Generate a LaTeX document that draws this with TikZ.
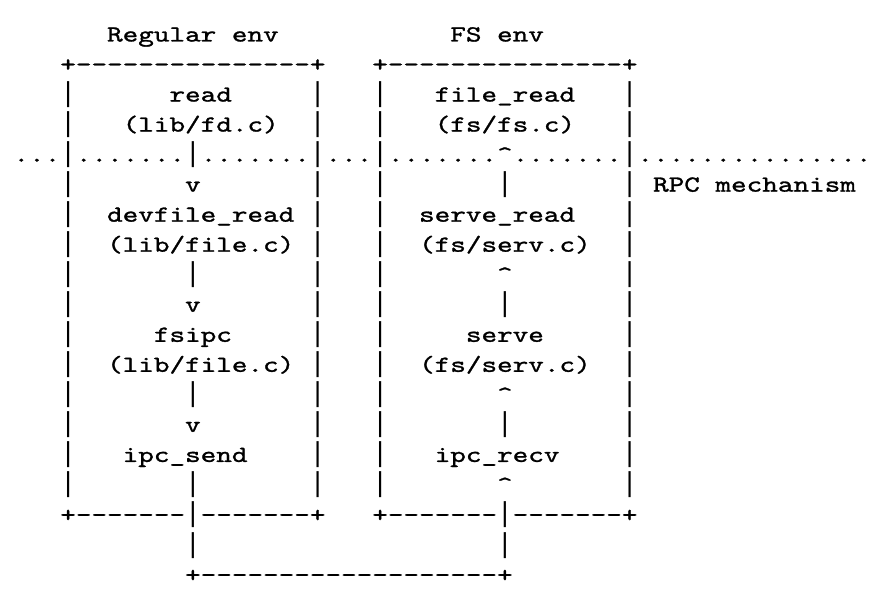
\documentclass[tikz,border=0pt]{standalone}
\usepackage{fontspec}
\newfontfamily\asciifont{lmmono10-regular.otf}[FakeStretch=1.2919,FakeBold=1.2]
\newfontfamily\barfont{DejaVu Sans Mono}
\tikzset{
  txt/.style={anchor=base west, inner sep=0pt, outer sep=0pt, text=black,
    font={\asciifont\fontsize{23pt}{30pt}\selectfont}}
}
% \A{row}{col}{text}
\newcommand\A[3]{\node[txt] (n#1-#2) at ({13.5+#2*15.6},{41.5+#1*30.03}) {#3};}
\newcommand\B{\makebox[15.6pt]{\barfont\fontsize{26pt}{30pt}\selectfont\textbar}}
\newcommand\C{\textasciicircum}
\begin{document}
\begin{tikzpicture}[x=1pt,y=-1pt]
\useasboundingbox[fill=white] (0,0) rectangle (880,612);
% row 0
\A{0}{6}{Regular env}
\A{0}{28}{FS env}
% row 1
\A{1}{3}{+---------------+}
\A{1}{23}{+---------------+}
% row 2
\A{2}{3}{\B}\A{2}{10}{read}\A{2}{19}{\B}
\A{2}{23}{\B}\A{2}{27}{file\_read}\A{2}{39}{\B}
% row 3
\A{3}{3}{\B}\A{3}{7}{(lib/fd.c)}\A{3}{19}{\B}
\A{3}{23}{\B}\A{3}{27}{(fs/fs.c)}\A{3}{39}{\B}
% row 4
\A{4}{0}{...\B.......\B.......\B...\B.......\C.......\B...............}
% row 5
\A{5}{3}{\B}\A{5}{11}{v}\A{5}{19}{\B}
\A{5}{23}{\B}\A{5}{31}{\B}\A{5}{39}{\B}\A{5}{41}{RPC mechanism}
% row 6
\A{6}{3}{\B}\A{6}{6}{devfile\_read}\A{6}{19}{\B}
\A{6}{23}{\B}\A{6}{26}{serve\_read}\A{6}{39}{\B}
% row 7
\A{7}{3}{\B}\A{7}{6}{(lib/file.c)}\A{7}{19}{\B}
\A{7}{23}{\B}\A{7}{26}{(fs/serv.c)}\A{7}{39}{\B}
% row 8
\A{8}{3}{\B}\A{8}{11}{\B}\A{8}{19}{\B}
\A{8}{23}{\B}\A{8}{31}{\C}\A{8}{39}{\B}
% row 9
\A{9}{3}{\B}\A{9}{11}{v}\A{9}{19}{\B}
\A{9}{23}{\B}\A{9}{31}{\B}\A{9}{39}{\B}
% row 10
\A{10}{3}{\B}\A{10}{9}{fsipc}\A{10}{19}{\B}
\A{10}{23}{\B}\A{10}{29}{serve}\A{10}{39}{\B}
% row 11
\A{11}{3}{\B}\A{11}{6}{(lib/file.c)}\A{11}{19}{\B}
\A{11}{23}{\B}\A{11}{26}{(fs/serv.c)}\A{11}{39}{\B}
% row 12
\A{12}{3}{\B}\A{12}{11}{\B}\A{12}{19}{\B}
\A{12}{23}{\B}\A{12}{31}{\C}\A{12}{39}{\B}
% row 13
\A{13}{3}{\B}\A{13}{11}{v}\A{13}{19}{\B}
\A{13}{23}{\B}\A{13}{31}{\B}\A{13}{39}{\B}
% row 14
\A{14}{3}{\B}\A{14}{7}{ipc\_send}\A{14}{19}{\B}
\A{14}{23}{\B}\A{14}{27}{ipc\_recv}\A{14}{39}{\B}
% row 15
\A{15}{3}{\B}\A{15}{11}{\B}\A{15}{19}{\B}
\A{15}{23}{\B}\A{15}{31}{\C}\A{15}{39}{\B}
% row 16
\A{16}{3}{+-------\B-------+}
\A{16}{23}{+-------\B-------+}
% row 17
\A{17}{11}{\B}\A{17}{31}{\B}
% row 18
\A{18}{11}{+-------------------+}
\end{tikzpicture}
\end{document}
